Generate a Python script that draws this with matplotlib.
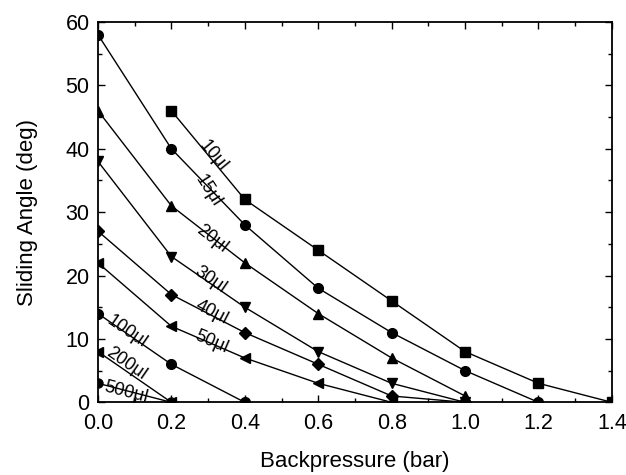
import numpy as np
import matplotlib
matplotlib.use('Agg')
import matplotlib.pyplot as plt
from matplotlib.ticker import MultipleLocator

plt.rcParams['font.family'] = ['Liberation Sans', 'DejaVu Sans']

# volumes and measured sliding angles
labels = ['10\u03bcl', '15\u03bcl', '20\u03bcl', '30\u03bcl', '40\u03bcl',
          '50\u03bcl', '100\u03bcl', '200\u03bcl', '500\u03bcl']
x10 = [0.2, 0.4, 0.6, 0.8, 1.0, 1.2, 1.4]
y10 = [46, 32, 24, 16, 8, 3, 0]
x15 = [0.0, 0.2, 0.4, 0.6, 0.8, 1.0, 1.2]
y15 = [58, 40, 28, 18, 11, 5, 0]
x20 = [0.0, 0.2, 0.4, 0.6, 0.8, 1.0]
y20 = [46, 31, 22, 14, 7, 1]
x30 = [0.0, 0.2, 0.4, 0.6, 0.8, 1.0]
y30 = [38, 23, 15, 8, 3, 0]
x40 = [0.0, 0.2, 0.4, 0.6, 0.8, 1.0]
y40 = [27, 17, 11, 6, 1, 0]
x50 = [0.0, 0.2, 0.4, 0.6, 0.8]
y50 = [22, 12, 7, 3, 0]
x100 = [0.0, 0.2, 0.4]
y100 = [14, 6, 0]
x200 = [0.0, 0.2]
y200 = [8, 0]
x500 = [0.0, 0.2]
y500 = [3, 0]

markers = ['s', 'o', '^', 'v', 'D', '<', 'o', '<', 'o']
msizes = [6.5, 7, 7.5, 7.5, 6, 7.5, 7, 6.5, 6.5]
# where each label sits (data coords) and which segment it follows
label_pos = [(0.313, 38.9), (0.30, 33.3), (0.31, 25.8), (0.305, 19.3),
             (0.31, 14.2), (0.31, 9.5), (0.078, 11.2), (0.078, 6.1),
             (0.078, 1.6)]
label_seg = [0, 0, 1, 1, 1, 1, 0, 0, 0]

series = [(x10, y10), (x15, y15), (x20, y20), (x30, y30), (x40, y40),
          (x50, y50), (x100, y100), (x200, y200), (x500, y500)]

fig = plt.figure(figsize=(6.26, 4.75), dpi=100)
ax = fig.add_axes([0.1565, 0.153, 0.821, 0.8007])

for (xs, ys), m, ms in zip(series, markers, msizes):
    ax.plot(xs, ys, color='black', lw=1.0, marker=m, ms=ms, mfc='black',
            mec='black', clip_on=True, zorder=3)

ax.set_xlim(0, 1.4)
ax.set_ylim(0, 60)
fig.canvas.draw()

for (xs, ys), lab, pos, seg in zip(series, labels, label_pos, label_seg):
    p0 = ax.transData.transform((xs[seg], ys[seg]))
    p1 = ax.transData.transform((xs[seg + 1], ys[seg + 1]))
    ang = np.degrees(np.arctan2(p1[1] - p0[1], p1[0] - p0[0]))
    ax.text(pos[0], pos[1], lab, rotation=ang, rotation_mode='anchor',
            ha='center', va='center', fontsize=13, zorder=4)

ax.xaxis.set_major_locator(MultipleLocator(0.2))
ax.xaxis.set_minor_locator(MultipleLocator(0.1))
ax.yaxis.set_major_locator(MultipleLocator(10))
ax.yaxis.set_minor_locator(MultipleLocator(5))
ax.xaxis.set_major_formatter(plt.FuncFormatter(lambda v, p: '%.1f' % v))
ax.tick_params(which='both', direction='in', top=True, right=True,
               labelsize=15.5, width=1.0)
ax.tick_params(which='major', length=5)
ax.tick_params(axis='x', which='major', pad=8)
ax.tick_params(axis='y', which='major', pad=6)
ax.tick_params(which='minor', length=3)
for s in ax.spines.values():
    s.set_linewidth(1.3)

ax.set_xlabel('Backpressure (bar)', fontsize=16, labelpad=12)
ax.set_ylabel('Sliding Angle (deg)', fontsize=16, labelpad=20)

fig.savefig('out.png', dpi=100)
